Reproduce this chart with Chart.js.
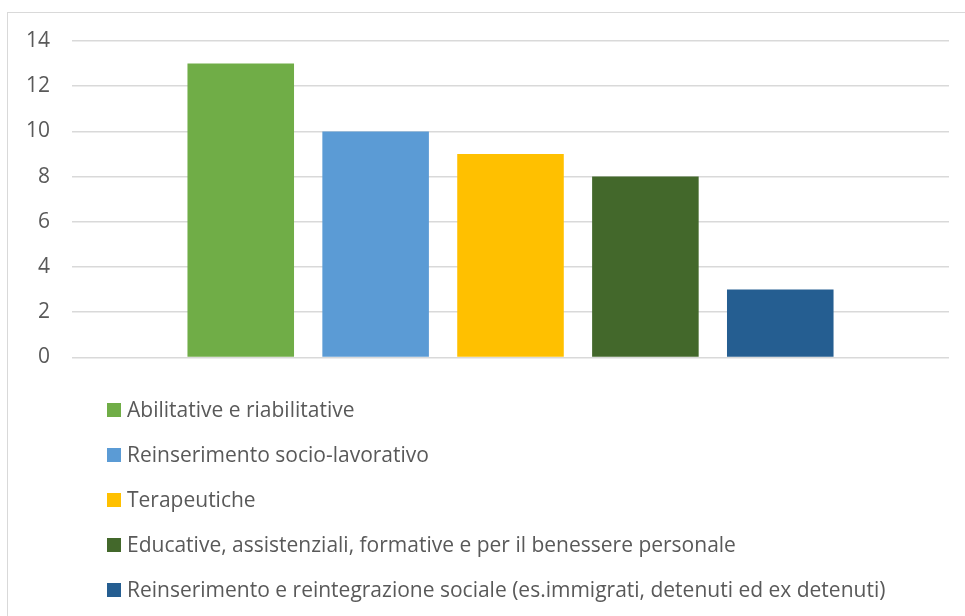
<!DOCTYPE html>
<html lang="it">
<head>
<meta charset="utf-8">
<title>Tipologie di attività</title>
<script src="https://cdn.jsdelivr.net/npm/chart.js@4.4.1/dist/chart.umd.min.js"></script>
<style>
    html, body { margin: 0; padding: 0; background: #fff; overflow: hidden; }
    body { width: 965px; height: 616px; position: relative; font-family: "Open Sans", sans-serif; }
    .frame { position: absolute; left: 7px; top: 12px; width: 1000px; height: 700px; border: 1.5px solid #d9d9d9; box-sizing: border-box; }
    #chart-wrap { position: absolute; left: 0; top: 0; width: 965px; height: 392px; }
    #legend { position: absolute; left: 107px; top: 387px; margin: 0; padding: 0; list-style: none; }
    #legend li { height: 45px; line-height: 45px; display: flex; align-items: center; font-size: 21px; color: #595959; white-space: nowrap; }
    #legend .box { display: inline-block; width: 14px; height: 14px; margin-right: 6px; flex: none; }
</style>
</head>
<body>
<div class="frame"></div>
<div id="chart-wrap"><canvas id="bar-chart" width="965" height="392"></canvas></div>
<ul id="legend"></ul>
<script>
const categorie = [''];
const tipologie = [
    'Abilitative e riabilitative',
    'Reinserimento socio-lavorativo',
    'Terapeutiche',
    'Educative, assistenziali, formative e per il benessere personale',
    'Reinserimento e reintegrazione sociale (es.immigrati, detenuti ed ex detenuti)'
];
const valori = [13, 10, 9, 8, 3];
const colori = ['#70ad47', '#5b9bd5', '#ffc000', '#43682b', '#255e91'];

// legenda in html, una voce per riga
const htmlLegend = {
    id: 'htmlLegend',
    afterUpdate(chart) {
        const ul = document.getElementById('legend');
        ul.innerHTML = '';
        chart.data.datasets.forEach(ds => {
            const li = document.createElement('li');
            const box = document.createElement('span');
            box.className = 'box';
            box.style.background = ds.backgroundColor;
            li.appendChild(box);
            li.appendChild(document.createTextNode(ds.label));
            ul.appendChild(li);
        });
    }
};

const ctx = document.getElementById('bar-chart').getContext('2d');
new Chart(ctx, {
    type: 'bar',
    data: {
        labels: categorie,
        datasets: tipologie.map((nome, i) => ({
            label: nome,
            data: [valori[i]],
            backgroundColor: colori[i],
            borderWidth: 0,
            categoryPercentage: 0.769,
            barPercentage: 0.79
        }))
    },
    options: {
        responsive: false,
        animation: false,
        layout: { padding: { top: 41, bottom: 9, left: 4, right: 16 } },
        plugins: {
            legend: { display: false },
            tooltip: { enabled: false }
        },
        scales: {
            x: { display: false },
            y: {
                min: 0,
                max: 14,
                border: { display: false },
                grid: { color: '#d9d9d9', lineWidth: 1.5, drawTicks: false },
                ticks: {
                    stepSize: 2,
                    padding: 22,
                    color: '#595959',
                    font: { family: 'Open Sans', size: 21 }
                }
            }
        }
    },
    plugins: [htmlLegend]
});
</script>
</body>
</html>
